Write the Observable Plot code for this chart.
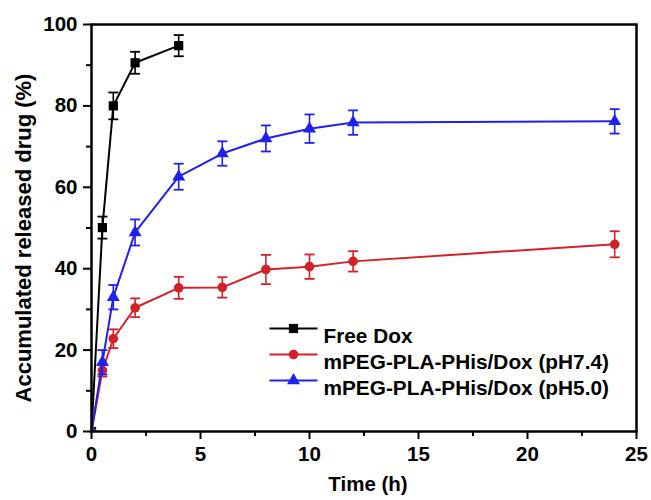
<!DOCTYPE html>
<html>
<head>
<meta charset="utf-8">
<script src="https://cdn.jsdelivr.net/npm/d3@7"></script>
<script src="https://cdn.jsdelivr.net/npm/@observablehq/plot@0.6"></script>
<style>
  html, body { margin: 0; padding: 0; background: #fff; }
  #chart svg { display: block; }
</style>
</head>
<body>
<div id="chart"></div>
<script>
// ---- data ----
const seriesNames = ["Free Dox", "mPEG-PLA-PHis/Dox (pH7.4)", "mPEG-PLA-PHis/Dox (pH5.0)"];

const freeTime  = [0, 0.5, 1, 2, 4];
const freeValue = [0, 50.1, 80.0, 90.6, 94.8];
const freeErr   = [0, 2.7, 3.3, 2.7, 2.6];

const ph74Time  = [0, 0.5, 1, 2, 4, 6, 8, 10, 12, 24];
const ph74Value = [0, 15.0, 22.8, 30.4, 35.3, 35.4, 39.8, 40.5, 41.8, 46.0];
const ph74Err   = [0, 1.5, 2.3, 2.3, 2.7, 2.5, 3.6, 3.0, 2.5, 3.2];

const ph50Time  = [0, 0.5, 1, 2, 4, 6, 8, 10, 12, 24];
const ph50Value = [0, 17.0, 33.0, 48.9, 62.6, 68.3, 72.0, 74.4, 75.9, 76.2];
const ph50Err   = [0, 3.0, 3.0, 3.2, 3.2, 3.0, 3.2, 3.5, 3.0, 3.0];

const xMajorTicks = [0, 5, 10, 15, 20, 25];
const xMinorTicks = [2.5, 7.5, 12.5, 17.5, 22.5];
const yMajorTicks = [0, 20, 40, 60, 80, 100];
const yMinorTicks = [10, 30, 50, 70, 90];

const xTitle = "Time (h)";
const yTitle = "Accumulated released drug (%)";

// ---- build ----
const colors = ["#000000", "#d42027", "#2020f0"];
const symbols = ["square", "circle", "triangle"];
const radii = [5.2, 4.8, 4.8];
const times = [freeTime, ph74Time, ph50Time];
const values = [freeValue, ph74Value, ph50Value];
const errs = [freeErr, ph74Err, ph50Err];

const capSymbol = { draw(ctx) { ctx.moveTo(-5, 0); ctx.lineTo(5, 0); } };
const legendLineSymbol = { draw(ctx) { ctx.moveTo(-24, 0); ctx.lineTo(24, 0); } };

const font = "'Liberation Sans', Arial, Helvetica, sans-serif";

const marks = [];
seriesNames.forEach((name, i) => {
  const rows = times[i].map((t, j) => ({ t, v: values[i][j], e: errs[i][j] }));
  const withErr = rows.filter(d => d.e > 0);
  const c = colors[i];
  marks.push(
    Plot.line(rows, { x: "t", y: "v", stroke: c, strokeWidth: 2 }),
    Plot.ruleX(withErr, { x: "t", y1: d => d.v - d.e, y2: d => d.v + d.e, stroke: c, strokeWidth: 1.6 }),
    Plot.dot(withErr, { x: "t", y: d => d.v + d.e, symbol: capSymbol, stroke: c, fill: "none", strokeWidth: 1.8 }),
    Plot.dot(withErr, { x: "t", y: d => d.v - d.e, symbol: capSymbol, stroke: c, fill: "none", strokeWidth: 1.8 }),
    Plot.dot(rows, { x: "t", y: "v", symbol: symbols[i], r: radii[i], fill: c, stroke: "none", clip: "frame" })
  );
  // legend row
  const dy = 304 + i * 26;
  marks.push(
    Plot.dot([name], { frameAnchor: "top-left", dx: 202, dy, symbol: legendLineSymbol, stroke: c, fill: "none", strokeWidth: 2 }),
    Plot.dot([name], { frameAnchor: "top-left", dx: 202, dy, symbol: symbols[i], r: radii[i], fill: c, stroke: "none" }),
    Plot.text([name], { frameAnchor: "top-left", dx: 232, dy, text: d => d, textAnchor: "start", fontSize: 20.8, fontWeight: "bold", fill: "#000" })
  );
});

const chart = Plot.plot({
  width: 651,
  height: 500,
  marginLeft: 91,
  marginRight: 15,
  marginTop: 24,
  marginBottom: 69,
  style: { fontFamily: font, fontWeight: "bold", fontSize: "20px", background: "#fff", color: "#000" },
  x: { domain: [0, 25] },
  y: { domain: [0, 100] },
  marks: [
    Plot.axisX({ ticks: xMajorTicks, tickSize: 8, tickPadding: 7, tickFormat: d => String(d), fontSize: 20.5, fontWeight: "bold", strokeWidth: 2, label: null }),
    Plot.axisX({ ticks: xMinorTicks, tickSize: 5, text: null, strokeWidth: 2, label: null }),
    Plot.axisY({ ticks: yMajorTicks, tickSize: 8, tickPadding: 6, tickFormat: d => String(d), fontSize: 20.5, fontWeight: "bold", strokeWidth: 2, label: null }),
    Plot.axisY({ ticks: yMinorTicks, tickSize: 5, text: null, strokeWidth: 2, label: null }),
    ...marks,
    Plot.frame({ stroke: "#000", strokeWidth: 2.5 }),
    Plot.text([xTitle], { frameAnchor: "bottom", textAnchor: "middle", dx: 4, dy: 59, text: d => d, fontSize: 20.5, fontWeight: "bold", fill: "#000" }),
    Plot.text([yTitle], { frameAnchor: "left", textAnchor: "middle", dx: -68, dy: 10, rotate: -90, text: d => d, fontSize: 22, fontWeight: "bold", fill: "#000" })
  ]
});
document.getElementById("chart").appendChild(chart);
</script>
</body>
</html>
